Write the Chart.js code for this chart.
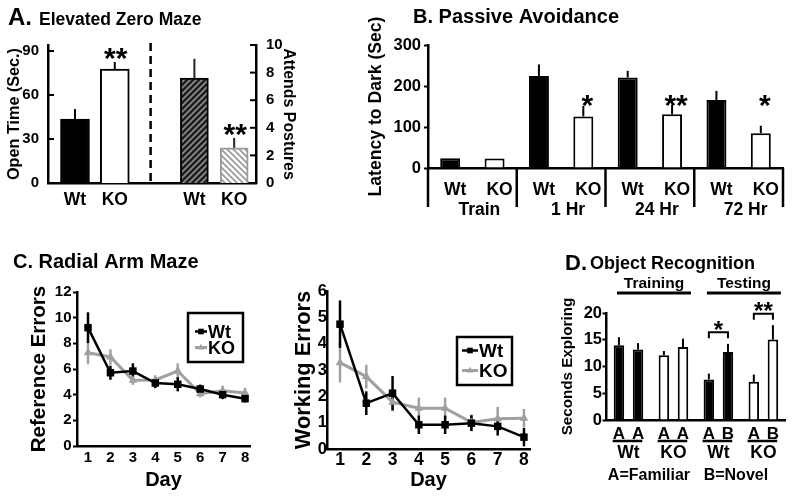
<!DOCTYPE html>
<html><head><meta charset="utf-8">
<script src="https://cdn.jsdelivr.net/npm/chart.js@4.4.1/dist/chart.umd.min.js"></script>
<style>
html,body{margin:0;padding:0;background:#fff;}
#wrap{position:relative;width:800px;height:500px;overflow:hidden;background:#fff;}
#wrap canvas{position:absolute;left:0;top:0;}
</style></head><body>
<div id="wrap">
<canvas id="cA" width="800" height="500"></canvas>
<canvas id="cB" width="800" height="500"></canvas>
<canvas id="cC1" width="800" height="500"></canvas>
<canvas id="cC2" width="800" height="500"></canvas>
<canvas id="cD" width="800" height="500"></canvas>
</div>
<script>
// ---------- DATA ----------
// A. Elevated Zero Maze
const ezmLabels = ['Wt', 'KO', '', 'Wt', 'KO'];
const openTimeIdx = [0, 1];
const openTimeVals = [43.6, 77.7];
const openTimeErr = [6.8, 4.8];
const openTimeSig = ['', '**'];
const postureIdx = [3, 4];
const postureVals = [7.6, 2.55];
const postureErr = [1.4, 0.72];
const postureSig = ['', '**'];

// B. Passive Avoidance
const paLabels = ['Wt', 'KO', 'Wt', 'KO', 'Wt', 'KO', 'Wt', 'KO'];
const paGroups = ['Train', '1 Hr', '24 Hr', '72 Hr'];
const paVals = [24, 23, 224.6, 125.7, 221, 131, 166, 85];
const paErr = [0, 0, 28, 26, 16, 23, 22, 18];
const paSig = ['', '', '', '*', '', '**', '', '*'];

// C. Radial Arm Maze
const days = [1, 2, 3, 4, 5, 6, 7, 8];
const refWt = [9.22, 5.71, 5.84, 4.91, 4.81, 4.44, 4.0, 3.69];
const refWtErr = [1.2, 0.55, 0.6, 0.4, 0.55, 0.35, 0.35, 0.3];
const refKO = [7.27, 6.94, 5.12, 5.15, 5.84, 4.08, 4.3, 4.13];
const refKOErr = [0.9, 0.6, 0.35, 0.35, 0.6, 0.3, 0.4, 0.4];
const workWt = [4.74, 1.74, 2.12, 0.92, 0.92, 0.98, 0.86, 0.45];
const workWtErr = [0.9, 0.45, 0.65, 0.35, 0.35, 0.3, 0.35, 0.35];
const workKO = [3.28, 2.75, 1.78, 1.55, 1.55, 1.01, 1.15, 1.17];
const workKOErr = [0.75, 0.45, 0.35, 0.4, 0.4, 0.3, 0.45, 0.35];

// D. Object Recognition
const orGroups = ['Wt', 'KO', 'Wt', 'KO'];
const orPhases = ['Training', 'Testing'];
const orFirst = [13.98, 12.1, 7.58, 7.14];
const orFirstErr = [1.5, 0.8, 1.1, 1.35];
const orFirstObj = ['A', 'A', 'A', 'A'];
const orSecond = [13.17, 13.66, 12.73, 15.03];
const orSecondErr = [1.2, 1.55, 1.5, 2.7];
const orSecondObj = ['A', 'A', 'B', 'B'];
const orSig = ['', '', '*', '**'];

// ---------- HELPERS ----------
const FONT = "'Liberation Sans', Arial, Helvetica, sans-serif";
const F = s => ({family: FONT, size: s, weight: 'bold', lineHeight: 1.2});
const fixW = w => s => { s.width = w; };
const fixH = h => s => { s.height = h; };
const NOGRID = { display: false, drawTicks: false };
Chart.defaults.color = '#000';
Chart.defaults.font.family = FONT;
Chart.defaults.font.weight = 'bold';
Chart.defaults.animation = false;
Chart.defaults.plugins.legend.display = false;
Chart.defaults.plugins.tooltip.enabled = false;
Chart.defaults.responsive = false;
Chart.defaults.maintainAspectRatio = false;
Chart.defaults.devicePixelRatio = 1;

function txt(ctx, s, x, y, size, align, color) {
  ctx.save();
  ctx.font = 'bold ' + size + 'px ' + FONT;
  ctx.fillStyle = color || '#000';
  ctx.textAlign = align || 'left';
  ctx.textBaseline = 'alphabetic';
  ctx.fillText(s, x, y);
  ctx.restore();
}
function txtC(ctx, s, x, cy, size, align, color) { txt(ctx, s, x, cy + 0.358 * size, size, align, color); }
function star(ctx, s, x, cy, size) { if (s) txt(ctx, s, x, cy + 0.56 * size, size, 'center'); }
function seg(ctx, x1, y1, x2, y2, w, color, dash) {
  ctx.save();
  ctx.strokeStyle = color || '#000';
  ctx.lineWidth = w;
  if (dash) ctx.setLineDash(dash);
  ctx.beginPath(); ctx.moveTo(x1, y1); ctx.lineTo(x2, y2); ctx.stroke();
  ctx.restore();
}
function valOf(raw) { return (raw && typeof raw === 'object') ? raw.y : raw; }
function barErrors(chart, di, errs, color) {
  const meta = chart.getDatasetMeta(di);
  const sc = chart.scales[meta.yAxisID];
  const ds = chart.data.datasets[di];
  meta.data.forEach((el, i) => {
    const e = errs[i]; if (!e) return;
    const v = valOf(ds.data[i]);
    seg(chart.ctx, el.x, el.y, el.x, sc.getPixelForValue(v + e), 2, color || '#000');
  });
}
function lineErrors(chart, di, errs, color, w) {
  const meta = chart.getDatasetMeta(di);
  const sc = chart.scales[meta.yAxisID];
  const ds = chart.data.datasets[di];
  meta.data.forEach((el, i) => {
    const v = valOf(ds.data[i]);
    seg(chart.ctx, el.x, sc.getPixelForValue(v - errs[i]), el.x, sc.getPixelForValue(v + errs[i]), w, color);
  });
}
function innerTicks(chart, id, len, dir) {
  const sc = chart.scales[id];
  const x = dir > 0 ? chart.chartArea.left : chart.chartArea.right;
  sc.ticks.forEach(t => { const y = sc.getPixelForValue(t.value); seg(chart.ctx, x, y, x + dir * len, y, 2); });
}
function drawLegend(chart, box, rows, size) {
  const ctx = chart.ctx;
  ctx.save();
  ctx.strokeStyle = '#000'; ctx.lineWidth = 2.5;
  ctx.strokeRect(box.x1, box.y1, box.x2 - box.x1, box.y2 - box.y1);
  ctx.restore();
  chart.data.datasets.forEach((ds, i) => {
    const r = rows[i];
    seg(ctx, r.x1, r.y, r.x2, r.y, ds.borderWidth, ds.borderColor);
    ctx.save();
    ctx.fillStyle = ds.pointBackgroundColor;
    Chart.helpers.drawPoint(ctx, {pointStyle: ds.pointStyle, radius: ds.pointRadius * 0.75, rotation: 0, borderWidth: 0}, (r.x1 + r.x2) / 2, r.y);
    ctx.restore();
    txtC(ctx, ds.label, r.tx, r.y, size, 'left');
  });
}
function hatch(ctx, bg, fg, dir) {
  const n = 6;
  const c = document.createElement('canvas'); c.width = n; c.height = n;
  const x = c.getContext('2d');
  x.fillStyle = bg; x.fillRect(0, 0, n, n);
  x.strokeStyle = fg; x.lineWidth = 1.7;
  x.beginPath();
  if (dir > 0) {
    x.moveTo(-1, n + 1); x.lineTo(n + 1, -1);
    x.moveTo(-n / 2 - 1, n / 2 + 1); x.lineTo(n / 2 + 1, -n / 2 - 1);
    x.moveTo(n / 2 - 1, n * 1.5 + 1); x.lineTo(n * 1.5 + 1, n / 2 - 1);
  } else {
    x.moveTo(-1, -1); x.lineTo(n + 1, n + 1);
    x.moveTo(-n / 2 - 1, n / 2 - 1); x.lineTo(n / 2 + 1, n * 1.5 + 1);
    x.moveTo(n / 2 - 1, -n / 2 - 1); x.lineTo(n * 1.5 + 1, n / 2 + 1);
  }
  x.stroke();
  return ctx.createPattern(c, 'repeat');
}

// ---------- A. Elevated Zero Maze ----------
(function () {
  const cv = document.getElementById('cA');
  const ctx = cv.getContext('2d');
  const hWt = hatch(ctx, '#1e1e1e', '#8c8c8c', 1);
  const hKO = hatch(ctx, '#ffffff', '#9a9a9a', -1);
  new Chart(cv, {
    type: 'bar',
    data: {
      datasets: [
        { label: 'Open Time', yAxisID: 'y', grouped: false, barThickness: 29,
          data: openTimeIdx.map((x, i) => ({x, y: openTimeVals[i]})),
          backgroundColor: ['#000', '#fff'], borderColor: '#000', borderWidth: 2 },
        { label: 'Attends Postures', yAxisID: 'y2', grouped: false, barThickness: 28,
          data: postureIdx.map((x, i) => ({x, y: postureVals[i]})),
          backgroundColor: [hWt, hKO], borderColor: ['#000', '#9a9a9a'], borderWidth: 2 }
      ]
    },
    options: {
      layout: { padding: { left: 4, right: 502, top: 45, bottom: 277 } },
      scales: {
        x: { type: 'linear', min: -0.678, max: 4.548, offset: false, z: 1,
             grid: NOGRID, border: { display: true, width: 2.5, color: '#000' },
             ticks: { stepSize: 1, includeBounds: false, autoSkip: false, maxRotation: 0, padding: 7, font: F(17.5),
                      callback: v => ezmLabels[v] !== undefined ? ezmLabels[v] : '' },
             afterFit: fixH(40) },
        y: { position: 'left', min: 0, max: 94.09, grid: NOGRID,
             border: { width: 2.5, color: '#000' },
             ticks: { stepSize: 30, includeBounds: false, padding: 9, font: F(15) },
             title: { display: true, text: 'Open Time (Sec.)', font: F(16.2), padding: { top: 1, bottom: 0 } },
             afterFit: fixW(44) },
        y2: { position: 'right', min: 0, max: 10, grid: NOGRID,
              border: { width: 2.5, color: '#000' },
              ticks: { stepSize: 2, padding: 10, font: F(15) },
              title: { display: true, text: 'Attends Postures', font: F(15.9), padding: { top: 0.5, bottom: 0 } },
              afterFit: fixW(42) }
      }
    },
    plugins: [{
      id: 'ezmDeco',
      afterDatasetsDraw(chart) {
        const c = chart.ctx;
        barErrors(chart, 0, openTimeErr, '#000');
        barErrors(chart, 1, postureErr, '#222');
        innerTicks(chart, 'y', 6, 1);
        innerTicks(chart, 'y2', 6, -1);
        const xs = chart.scales.x;
        const sx = xs.getPixelForValue(1.9);
        seg(c, sx, chart.chartArea.top - 2, sx, chart.chartArea.bottom, 2.5, '#000', [8, 5]);
        [[0, openTimeVals, openTimeErr, openTimeSig, 'y'], [1, postureVals, postureErr, postureSig, 'y2']].forEach(([di, vals, errs, sig, yid]) => {
          const meta = chart.getDatasetMeta(di);
          meta.data.forEach((el, i) => {
            const top = chart.scales[yid].getPixelForValue(vals[i] + errs[i]);
            star(c, sig[i], el.x + 1, top - 10.5, 30);
          });
        });
        txt(c, 'A.', 8, 25, 24, 'left');
        txt(c, 'Elevated Zero Maze', 39, 25, 17.5, 'left');
      }
    }]
  });
})();

// ---------- B. Passive Avoidance ----------
(function () {
  const cv = document.getElementById('cB');
  new Chart(cv, {
    type: 'bar',
    data: {
      labels: paLabels,
      datasets: [{ label: 'Latency', data: paVals,
        backgroundColor: paLabels.map(l => l === 'Wt' ? '#000' : '#fff'),
        borderColor: '#000', borderWidth: 2, categoryPercentage: 1, barPercentage: 0.45 }]
    },
    options: {
      layout: { padding: { left: 364, right: 17, top: 45, bottom: 282 } },
      scales: {
        x: { grid: NOGRID, z: 1, border: { width: 2.5, color: '#000' },
             ticks: { autoSkip: false, maxRotation: 0, padding: 12, labelOffset: 5, font: F(17.5) },
             afterFit: fixH(50) },
        y: { min: 0, max: 300,
             grid: { display: true, drawOnChartArea: false, drawTicks: true, tickLength: 4, tickWidth: 2, tickColor: '#000' },
             border: { width: 2.5, color: '#000' },
             ticks: { stepSize: 50, padding: 3, font: F(16.5), callback: v => (v % 100 === 0 ? v : '') },
             title: { display: true, text: 'Latency to Dark (Sec)', font: F(17.6), padding: { top: 1.5, bottom: 0 } },
             afterFit: fixW(64) }
      }
    },
    plugins: [{
      id: 'paDeco',
      afterDatasetsDraw(chart) {
        const c = chart.ctx;
        barErrors(chart, 0, paErr, '#000');
        const xs = chart.scales.x, ys = chart.scales.y, a = chart.chartArea;
        const yb = a.bottom, ye = 207;
        seg(c, a.left, yb, a.left, ye, 2.5);
        paGroups.forEach((g, gi) => {
          const p0 = xs.getPixelForValue(2 * gi), p1 = xs.getPixelForValue(2 * gi + 1);
          const step = p1 - p0;
          seg(c, p1 + step / 2, yb, p1 + step / 2, ye, 2.5);
          txtC(c, g, (p0 + p1) / 2 + 7, 209, 17.5, 'center');
        });
        const meta = chart.getDatasetMeta(0);
        meta.data.forEach((el, i) => star(c, paSig[i], el.x + 4, ys.getPixelForValue(170), 30));
        txt(c, 'B. Passive Avoidance', 413, 22.7, 20, 'left');
      }
    }]
  });
})();

// ---------- C. Radial Arm Maze ----------
function rawChart(id, wt, wtErr, ko, koErr, opts) {
  const cv = document.getElementById(id);
  new Chart(cv, {
    type: 'line',
    data: {
      datasets: [
        { label: 'Wt', data: days.map((d, i) => ({x: d, y: wt[i]})), borderColor: '#000', borderWidth: 2.5,
          pointStyle: 'rect', pointRadius: 5.3, pointBackgroundColor: '#000', pointBorderWidth: 0, tension: 0 },
        { label: 'KO', data: days.map((d, i) => ({x: d, y: ko[i]})), borderColor: '#a0a0a0', borderWidth: 3,
          pointStyle: 'triangle', pointRadius: 5, pointBackgroundColor: '#a0a0a0', pointBorderWidth: 0, tension: 0 }
      ]
    },
    options: {
      layout: { padding: opts.padding },
      scales: {
        x: { type: 'linear', min: opts.xmin, max: opts.xmax, offset: false,
             grid: NOGRID, border: { width: 2.5, color: '#000' },
             ticks: { stepSize: 1, includeBounds: false, autoSkip: false, maxRotation: 0, padding: opts.xpad, font: F(opts.xfont) },
             title: { display: true, text: 'Day', font: F(20), padding: { top: 0, bottom: 0 } },
             afterFit: fixH(opts.hb) },
        y: { min: 0, max: opts.ymax,
             grid: opts.yticks ? { display: true, drawOnChartArea: false, drawTicks: true, tickLength: 4, tickWidth: 2, tickColor: '#000' } : NOGRID,
             border: { width: 2.5, color: '#000' },
             ticks: { stepSize: opts.ystep, padding: opts.ypad, font: F(opts.yfont) },
             title: { display: true, text: opts.ytitle, font: F(opts.ytfont), padding: { top: opts.ytpad, bottom: 0 } },
             afterFit: fixW(opts.wy) }
      }
    },
    plugins: [{
      id: id + 'Deco',
      beforeDatasetsDraw(chart) {
        lineErrors(chart, 1, koErr, '#a0a0a0', 2.5);
        lineErrors(chart, 0, wtErr, '#000', 2.5);
      },
      afterDraw(chart) {
        drawLegend(chart, opts.box, opts.rows, opts.lfont);
        if (opts.title) txt(chart.ctx, opts.title, 13, 268, 20, 'left');
      }
    }]
  });
}
rawChart('cC1', refWt, refWtErr, refKO, refKOErr, {
  padding: { left: 27, right: 550, top: 292, bottom: 8 },
  xmin: 0.51, xmax: 8.22, xpad: 3, xfont: 15, hb: 46,
  ymax: 12, ystep: 2, ypad: 1.5, yfont: 15, yticks: true,
  ytitle: 'Reference Errors', ytfont: 20.5, ytpad: 0.2, wy: 50,
  box: { x1: 188, y1: 313, x2: 243, y2: 362 },
  rows: [{ y: 331.5, x1: 195, x2: 207, tx: 208 }, { y: 347.5, x1: 195, x2: 207, tx: 208 }],
  lfont: 18, title: 'C. Radial Arm Maze'
});
rawChart('cC2', workWt, workWtErr, workKO, workKOErr, {
  padding: { left: 291, right: 270, top: 291, bottom: 8 },
  xmin: 0.505, xmax: 8.23, xpad: 1, xfont: 17.5, hb: 43,
  ymax: 6, ystep: 1, ypad: 0, yfont: 16.5, yticks: false,
  ytitle: 'Working Errors', ytfont: 21.8, ytpad: 0, wy: 36,
  box: { x1: 457, y1: 337, x2: 512, y2: 385 },
  rows: [{ y: 350.5, x1: 462, x2: 478, tx: 479 }, { y: 370.5, x1: 462, x2: 478, tx: 479 }],
  lfont: 19, title: ''
});

// ---------- D. Object Recognition ----------
(function () {
  const cv = document.getElementById('cD');
  const fills = orGroups.map(g => g === 'Wt' ? '#000' : '#fff');
  new Chart(cv, {
    type: 'bar',
    data: {
      labels: orGroups,
      datasets: [
        { label: 'First object', data: orFirst, backgroundColor: fills, borderColor: '#000', borderWidth: 2,
          categoryPercentage: 0.85, barPercentage: 0.55 },
        { label: 'Second object', data: orSecond, backgroundColor: fills, borderColor: '#000', borderWidth: 2,
          categoryPercentage: 0.85, barPercentage: 0.55 }
      ]
    },
    options: {
      layout: { padding: { left: 558, right: 4, top: 313, bottom: 20 } },
      scales: {
        x: { grid: NOGRID, z: 1, border: { width: 2.5, color: '#000' },
             ticks: { autoSkip: false, maxRotation: 0, padding: 23, font: F(17.5) },
             afterFit: fixH(60) },
        y: { min: 0, max: 20,
             grid: { display: true, drawOnChartArea: false, drawTicks: true, tickLength: 3.5, tickWidth: 2, tickColor: '#000' },
             border: { width: 2.5, color: '#000' },
             ticks: { stepSize: 5, padding: 0.5, font: F(16.5) },
             title: { display: true, text: 'Seconds Exploring', font: F(15.2), padding: { top: 0.4, bottom: 0 } },
             afterFit: fixW(48) }
      }
    },
    plugins: [{
      id: 'orDeco',
      afterDatasetsDraw(chart) {
        const c = chart.ctx;
        barErrors(chart, 0, orFirstErr, '#000');
        barErrors(chart, 1, orSecondErr, '#000');
        const ys = chart.scales.y, xs = chart.scales.x;
        const m0 = chart.getDatasetMeta(0), m1 = chart.getDatasetMeta(1);
        orGroups.forEach((g, i) => {
          const b0 = m0.data[i], b1 = m1.data[i];
          txtC(c, orFirstObj[i], b0.x, 433, 17, 'center');
          txtC(c, orSecondObj[i], b1.x, 433, 17, 'center');
          seg(c, b0.x - b0.width / 2 - 1, 441, b1.x + b1.width / 2 - 1, 441, 2.5);
          if (orSig[i]) {
            const top = Math.min(ys.getPixelForValue(orFirst[i] + orFirstErr[i]), ys.getPixelForValue(orSecond[i] + orSecondErr[i]));
            const by = top - 11.5;
            const ctx = c; ctx.save(); ctx.strokeStyle = '#000'; ctx.lineWidth = 2;
            ctx.beginPath(); ctx.moveTo(b0.x, by + 6); ctx.lineTo(b0.x, by); ctx.lineTo(b1.x, by); ctx.lineTo(b1.x, by + 6); ctx.stroke(); ctx.restore();
            star(c, orSig[i], (b0.x + b1.x) / 2, by - 8, 24);
          }
        });
        orPhases.forEach((p, k) => {
          const cx = (xs.getPixelForValue(2 * k) + xs.getPixelForValue(2 * k + 1)) / 2 + 3;
          txt(c, p, cx, 288, 15.5, 'center');
          seg(c, cx - 37, 293, cx + 37, 293, 3);
        });
        const mid0 = (xs.getPixelForValue(0) + xs.getPixelForValue(1)) / 2;
        const mid1 = (xs.getPixelForValue(2) + xs.getPixelForValue(3)) / 2;
        txtC(c, 'A=Familiar', mid0 - 2, 474, 16, 'center');
        txtC(c, 'B=Novel', mid1 - 5, 474, 16, 'center');
        txt(c, 'D.', 565, 270, 22, 'left');
        txt(c, 'Object Recognition', 590, 269.3, 18, 'left');
      }
    }]
  });
})();
</script>
</body></html>
